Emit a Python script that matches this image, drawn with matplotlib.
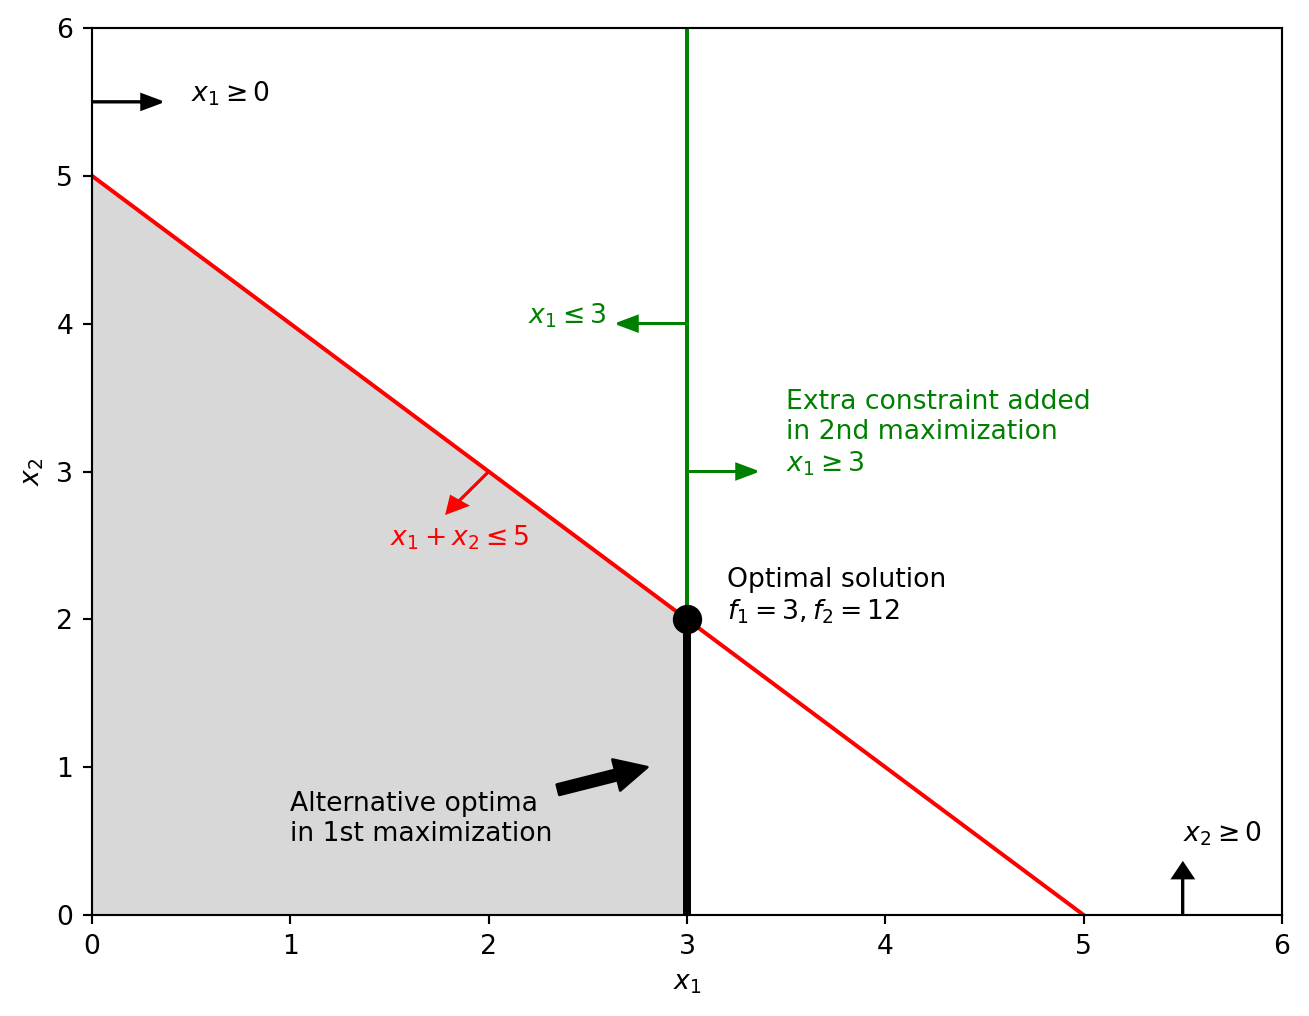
"""Lexicographic LP sketch: feasible region, constraints and optimum."""

import numpy as np
import matplotlib
matplotlib.use("Agg")
import matplotlib.pyplot as plt

# data
x_line = np.array([0, 5])          # x1 + x2 <= 5 boundary
y_line = np.array([5, 0])
x_fill = np.array([0, 3])          # feasible region after 1st step
y_fill = np.array([5, 2])
x_opt, y_opt = 3, 2                # optimal point
x_bound = 3                        # extra constraint x1 >= 3 / x1 <= 3
lims = (0, 6)

fig = plt.figure(figsize=(1309 / 192, 1016 / 192), dpi=192)
ax = fig.add_axes([92 / 1309, 101 / 1016, 1190 / 1309, 887 / 1016])

# feasible region
ax.fill_between(x_fill, 0, y_fill, color="gray", alpha=0.3, linewidth=0)
ax.plot(x_line, y_line, "r", lw=1.5)
ax.plot([x_bound, x_bound], [y_opt, lims[1]], "g", lw=1.5)
ax.plot([x_bound, x_bound], [0, y_opt], "k", lw=3)
ax.plot(x_opt, y_opt, "ko", markersize=10)

# non-negativity
ax.arrow(0, 5.5, 0.25, 0, head_width=0.1, head_length=0.1, fc="k", ec="k")
ax.text(0.5, 5.5, r"$x_1 \geq 0$")
ax.arrow(5.5, 0, 0, 0.25, head_width=0.1, head_length=0.1, fc="k", ec="k")
ax.text(5.5, 0.5, r"$x_2 \geq 0$")

# x1 + x2 <= 5
ax.arrow(2, 3, -0.15, -0.2, head_width=0.1, head_length=0.1, fc="r", ec="r")
ax.text(1.5, 2.5, r"$x_1 + x_2 \leq 5$", color="r")

# x1 <= 3 and x1 >= 3
ax.arrow(3, 4, -0.25, 0, head_width=0.1, head_length=0.1, fc="g", ec="g")
ax.text(2.2, 4, r"$x_1 \leq 3$", color="g")
ax.arrow(3, 3, 0.25, 0, head_width=0.1, head_length=0.1, fc="g", ec="g")
ax.text(3.5, 3, "Extra constraint added\nin 2nd maximization\n$x_1 \\geq 3$",
        color="g")

ax.text(3.2, 2, "Optimal solution\n$f_1 = 3, f_2 = 12$")
ax.annotate("Alternative optima\nin 1st maximization", xy=(2.8, 1),
            xytext=(1, 0.5), arrowprops=dict(facecolor="black"))

ax.set_xlim(lims)
ax.set_ylim(lims)
ax.set_xlabel("$x_1$")
ax.set_ylabel("$x_2$")

fig.savefig("out.png", dpi=192)
